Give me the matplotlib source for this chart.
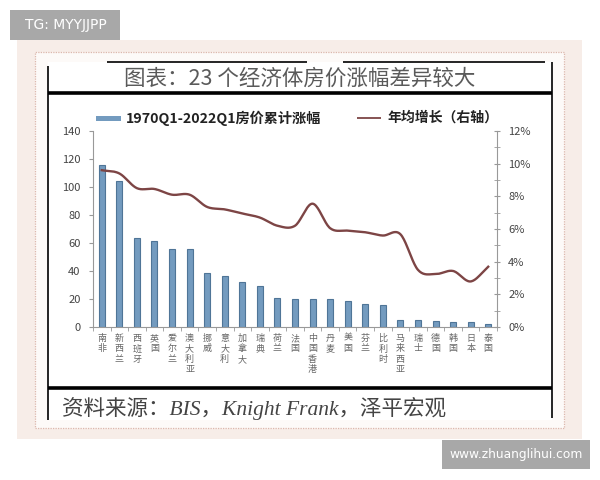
import numpy as np
import matplotlib
matplotlib.use("Agg")
import matplotlib.pyplot as plt
from matplotlib.patches import Rectangle
from matplotlib.lines import Line2D
from matplotlib.ticker import MultipleLocator, FuncFormatter

plt.rcParams['font.family'] = ['Noto Sans CJK SC', 'DejaVu Sans']

# ---- data -------------------------------------------------------------
economies = ["南非", "新西兰", "西班牙", "英国", "爱尔兰", "澳大利亚", "挪威", "意大利",
             "加拿大", "瑞典", "荷兰", "法国", "中国香港", "丹麦", "美国", "芬兰",
             "比利时", "马来西亚", "瑞士", "德国", "韩国", "日本", "泰国"]
cum_rise = [116, 104, 63.4, 61.7, 55.7, 55.5, 38.3, 36.4, 32.3, 29.2, 21.0, 20.3,
            19.9, 19.7, 18.4, 16.5, 16.0, 5.3, 5.3, 4.1, 3.8, 3.3, 1.9]
annual_growth = [9.6, 9.4, 8.5, 8.45, 8.1, 8.1, 7.35, 7.2, 6.95, 6.7, 6.2, 6.2,
                 7.55, 6.05, 5.9, 5.8, 5.6, 5.68, 3.5, 3.24, 3.43, 2.79, 3.69]

title = "图表：23 个经济体房价涨幅差异较大"
bar_label = "1970Q1-2022Q1房价累计涨幅"
line_label = "年均增长（右轴）"
source = "资料来源：BIS，Knight Frank，泽平宏观"

BAR_FACE = "#739bbf"
BAR_EDGE = "#4f7597"
LINE_COLOR = "#7d4545"

W, H = 600, 480


def fx(px):
    return px / W


def fy(py):
    return 1 - py / H


def smooth(xs, ys, n=20):
    """Catmull-Rom curve through the points, like a smoothed office-chart line."""
    xs = np.asarray(xs, float)
    ys = np.asarray(ys, float)
    px = np.concatenate([[2 * xs[0] - xs[1]], xs, [2 * xs[-1] - xs[-2]]])
    py = np.concatenate([[2 * ys[0] - ys[1]], ys, [2 * ys[-1] - ys[-2]]])
    outx, outy = [], []
    t = np.linspace(0, 1, n, endpoint=False)
    for i in range(1, len(px) - 2):
        for P, out in ((px, outx), (py, outy)):
            p0, p1, p2, p3 = P[i - 1], P[i], P[i + 1], P[i + 2]
            out.extend(0.5 * ((2 * p1) + (-p0 + p2) * t
                              + (2 * p0 - 5 * p1 + 4 * p2 - p3) * t ** 2
                              + (-p0 + 3 * p1 - 3 * p2 + p3) * t ** 3))
    outx.append(xs[-1])
    outy.append(ys[-1])
    return np.array(outx), np.array(outy)


fig = plt.figure(figsize=(6, 4.8), dpi=100)
fig.patch.set_facecolor("white")

# ---- framing ----------------------------------------------------------
def rect(x0, y0, x1, y1, **kw):
    r = Rectangle((fx(x0), fy(y1)), fx(x1) - fx(x0), fy(y0) - fy(y1),
                  transform=fig.transFigure, **kw)
    fig.add_artist(r)
    return r


def hline(x0, x1, y, lw, color="black"):
    fig.add_artist(Line2D([fx(x0), fx(x1)], [fy(y), fy(y)], transform=fig.transFigure,
                          color=color, lw=lw, solid_capstyle="butt"))


def vline(x, y0, y1, lw, color="black"):
    fig.add_artist(Line2D([fx(x), fx(x)], [fy(y0), fy(y1)], transform=fig.transFigure,
                          color=color, lw=lw, solid_capstyle="butt"))


rect(17, 40, 582, 439, facecolor="#f7ede8", edgecolor="none", zorder=-3)
rect(35, 52, 564, 428, facecolor="#fdfaf8", edgecolor="#dcb8ad", lw=0.9,
     linestyle=(0, (1, 1)), zorder=-2)
rect(48, 62, 552, 420, facecolor="white", edgecolor="none", zorder=-1)
vline(48, 66, 420, 1.2)
vline(552, 62, 418, 1.2)
hline(107, 307, 62, 1.2)
hline(343, 545, 62, 1.2)
hline(48, 552, 93, 2.6)
hline(48, 552, 388, 2.6)

fig.text(fx(300), fy(79), title, ha="center", va="center", fontsize=15.5,
         color="#5a5a5a")
fig.text(fx(62), fy(408), source, ha="left", va="center", fontsize=15.5,
         color="#444444", family=["Liberation Serif", "Noto Sans CJK SC"],
         style="italic")

# ---- legend -----------------------------------------------------------
rect(96, 115.5, 121, 121, facecolor=BAR_FACE, edgecolor="none", zorder=2)
fig.text(fx(126), fy(118), bar_label, ha="left", va="center", fontsize=10.2,
         fontweight="bold", color="#222222")
hline(357, 381, 118, 1.3, LINE_COLOR)
fig.text(fx(387), fy(118), line_label, ha="left", va="center", fontsize=10,
         fontweight="bold", color="#222222")

# ---- chart ------------------------------------------------------------
ax = fig.add_axes([fx(93), fy(327), fx(497) - fx(93), fy(131) - fy(327)])
ax.set_facecolor("none")
x = np.arange(len(economies))
ax.bar(x, cum_rise, width=0.34, color=BAR_FACE, edgecolor=BAR_EDGE, linewidth=0.8,
       zorder=2)
ax.set_xlim(-0.5, len(economies) - 0.5)
ax.set_ylim(0, 140)
ax.yaxis.set_major_locator(MultipleLocator(20))
ax.set_xticks(x, ["\n".join(name) for name in economies])
ax.set_xticks(np.arange(len(economies) + 1) - 0.5, minor=True)
ax.tick_params(axis="x", which="major", length=0, pad=5, labelsize=6.5,
               labelcolor="#666666")
ax.tick_params(axis="x", which="minor", length=3, color="#999999", direction="out")
ax.tick_params(axis="y", which="major", length=3, color="#999999", direction="out",
               labelsize=8, labelcolor="#444444", pad=6)
for t in ax.get_xticklabels():
    t.set_linespacing(1.2)
    t.set_va("top")
for side in ("top", "right"):
    ax.spines[side].set_visible(False)
for side in ("left", "bottom"):
    ax.spines[side].set_color("#999999")
    ax.spines[side].set_linewidth(0.8)

ax2 = ax.twinx()
ax2.set_ylim(0, 12)
sx, sy = smooth(x, annual_growth)
ax2.plot(sx, sy, color=LINE_COLOR, lw=1.7, zorder=3)
ax2.yaxis.set_major_locator(MultipleLocator(2))
ax2.yaxis.set_minor_locator(MultipleLocator(1))
ax2.yaxis.set_major_formatter(FuncFormatter(lambda v, _: f"{v:.0f}%"))
ax2.tick_params(axis="y", which="both", direction="inout", length=4, color="#999999",
                labelsize=8, labelcolor="#444444", pad=6)
for side in ("top", "left", "bottom"):
    ax2.spines[side].set_visible(False)
ax2.spines["right"].set_color("#999999")
ax2.spines["right"].set_linewidth(0.8)

# ---- watermarks -------------------------------------------------------
rect(10, 10, 120, 40, facecolor="#a8a8a8", edgecolor="none", zorder=5)
fig.text(fx(66), fy(25), "TG: MYYJJPP", ha="center", va="center", fontsize=10,
         color="white", family="DejaVu Sans", zorder=6)
rect(442, 440, 590, 469, facecolor="#a8a8a8", edgecolor="none", zorder=5)
fig.text(fx(516), fy(454.5), "www.zhuanglihui.com", ha="center", va="center",
         fontsize=8.8, color="white", family="DejaVu Sans", zorder=6)

fig.savefig("out.png", dpi=100)
